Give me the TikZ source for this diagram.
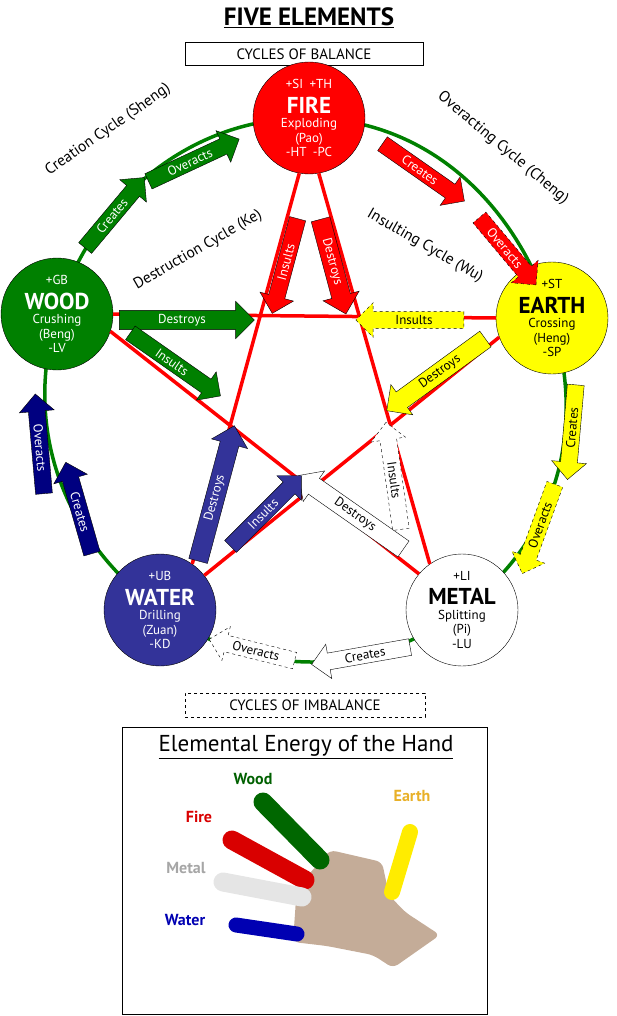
\documentclass[tikz,border=0pt]{standalone}
\usepackage{fontspec}
\setmainfont{PT Sans}
\usetikzlibrary{shapes.arrows}
\definecolor{wgreen}{RGB}{0,128,0}
\definecolor{fred}{RGB}{255,0,0}
\definecolor{eyellow}{RGB}{255,255,0}
\definecolor{wblue}{RGB}{51,51,153}
\definecolor{wnavy}{RGB}{0,0,128}
\definecolor{skin}{RGB}{196,172,152}
\definecolor{hearth}{RGB}{232,176,40}
\tikzset{
  elem/.style={circle,draw=black,minimum size=112pt,inner sep=0pt,align=center,font=\fontsize{13}{14.5}\selectfont},
  blk/.style={single arrow,draw=black,minimum height=#1,single arrow head extend=9pt,inner sep=3.5pt,font=\fontsize{13}{14}\selectfont},
  back/.style={shape border rotate=180},
  cyc/.style={font=\fontsize{15.5}{16}\selectfont},
  finger/.style={line width=19pt,line cap=round}
}
\newcommand{\ename}[1]{{\fontsize{23}{24}\selectfont\bfseries #1}}
\begin{document}
\begin{tikzpicture}[x=1pt,y=1pt]
\useasboundingbox (0,0) rectangle (617,-1016);
% headings
\node[font=\fontsize{25}{26}\selectfont\bfseries] (title) at (309,-18) {\underline{FIVE ELEMENTS}};
\node[draw,minimum width=238pt,minimum height=23pt,font=\fontsize{15}{16}\selectfont] (bal) at (304,-54) {CYCLES OF BALANCE};
\node[draw,dashed,minimum width=240pt,minimum height=24pt,font=\fontsize{15}{16}\selectfont] (imbal) at (305,-705) {CYCLES OF IMBALANCE};
% elements
\coordinate (cf) at (309,-118);
\coordinate (cwd) at (57,-314);
\coordinate (ce) at (552,-318);
\coordinate (cwa) at (160,-610);
\coordinate (cm) at (462,-610);
\draw[wgreen,line width=3.5pt] plot[smooth cycle,tension=0.85] coordinates {(cf) (ce) (cm) (cwa) (cwd)};
\node[elem,fill=fred,text=white] (fire) at (cf) {+SI\enspace+TH\\[7pt]\ename{FIRE}\\Exploding\\(Pao)\\-HT\enspace-PC};
\node[elem,fill=wgreen,text=white] (wood) at (cwd) {+GB\\[7pt]\ename{WOOD}\\Crushing\\(Beng)\\-LV};
\node[elem,fill=eyellow] (earth) at (ce) {+ST\\[7pt]\ename{EARTH}\\Crossing\\(Heng)\\-SP};
\node[elem,fill=wblue,text=white] (water) at (cwa) {+UB\\[7pt]\ename{WATER}\\Drilling\\(Zuan)\\-KD};
\node[elem,fill=white] (metal) at (cm) {+LI\\[7pt]\ename{METAL}\\Splitting\\(Pi)\\-LU};
% pentagram
\draw[fred,line width=3.5pt] (wood.east) -- (earth.west)
  (fire.-100) -- (water.55) (fire.-80) -- (metal.125)
  (wood.-18) -- (metal.140) (earth.-160) -- (water.38);
% cycle names
\node[cyc,rotate=35] (sheng) at (108,-130) {Creation Cycle (Sheng)};
\node[cyc,rotate=-40] (cheng) at (503,-148) {Overacting Cycle (Cheng)};
\node[cyc,rotate=30] (ke) at (198,-250) {Destruction Cycle (Ke)};
\node[cyc,rotate=-30] (wu) at (425,-246) {Insulting Cycle (Wu)};
% wood arrows
\node[blk=92pt,fill=wgreen,text=white,rotate=50] (wdc) at (112,-216) {Creates};
\node[blk=100pt,fill=wgreen,text=white,rotate=25] (wdo) at (190,-162) {Overacts};
\node[blk=135pt,fill=wgreen,text=white] (wdd) at (182,-320) {Destroys};
\node[blk=110pt,fill=wgreen,text=white,rotate=-35] (wdi) at (172,-362) {Insults};
% fire arrows
\node[blk=100pt,fill=fred,text=white,rotate=-35] (frc) at (420,-170) {Creates};
\node[blk=88pt,fill=fred,text=white,rotate=-50,dashed] (fro) at (505,-248) {Overacts};
\node[blk=98pt,fill=fred,text=white,rotate=75,back] (fri) at (286,-262) {Insults};
\node[blk=98pt,fill=fred,text=white,rotate=-75] (frd) at (332,-262) {Destroys};
% earth arrows
\node[blk=108pt,fill=eyellow,dashed,back] (eai) at (414,-320) {Insults};
\node[blk=122pt,fill=eyellow,rotate=36,back] (ead) at (440,-372) {Destroys};
\node[blk=95pt,fill=eyellow,rotate=85,back] (eac) at (572,-428) {Creates};
\node[blk=95pt,fill=eyellow,dashed,rotate=70,back] (eao) at (540,-525) {Overacts};
% metal arrows
\node[blk=108pt,fill=white,dashed,rotate=-82,back] (mti) at (394,-480) {Insults};
\node[blk=128pt,fill=white,rotate=-35,back] (mtd) at (355,-515) {Destroys};
\node[blk=100pt,fill=white,rotate=10,back] (mtc) at (365,-655) {Creates};
\node[blk=88pt,fill=white,dashed,rotate=-14,back] (mto) at (256,-651) {Overacts};
% water arrows
\node[blk=95pt,fill=wnavy,text=white,rotate=-74,back] (wac) at (80,-512) {Creates};
\node[blk=100pt,fill=wnavy,text=white,rotate=-85,back] (wao) at (40,-448) {Overacts};
\node[blk=140pt,fill=wblue,text=white,rotate=75] (wad) at (215,-498) {Destroys};
\node[blk=100pt,fill=wblue,text=white,rotate=45] (wai) at (263,-514) {Insults};
% hand panel
\node[draw,minimum width=365pt,minimum height=287pt] (panel) at (304.5,-870.5) {};
\node[font=\fontsize{23}{24}\selectfont] (htitle) at (306,-747) {\underline{Elemental Energy of the Hand}};
\fill[skin,rounded corners=6pt] (313,-870) -- (330,-850) -- (382,-862) -- (389,-895) -- (405,-912)
  -- (440,-935) -- (393,-968) -- (373,-955) -- (327,-946) -- (293,-942) -- (297,-885) -- cycle;
\draw[finger,wgreen!80!black] (263,-802) -- (320,-860);
\draw[finger,red!85!black] (232,-840) -- (305,-880);
\draw[finger,gray!20] (223,-882) -- (302,-897);
\draw[finger,blue!70!black,line width=15pt] (236,-925) -- (297,-934);
\draw[finger,eyellow!85!orange,line width=16pt] (410,-832) -- (392,-892);
\node[font=\fontsize{16}{17}\selectfont\bfseries,text=wgreen!75!black] (lwood) at (253,-779) {Wood};
\node[font=\fontsize{16}{17}\selectfont\bfseries,text=red!85!black] (lfire) at (199,-817) {Fire};
\node[font=\fontsize{16}{17}\selectfont\bfseries,text=gray!70] (lmetal) at (186,-868) {Metal};
\node[font=\fontsize{16}{17}\selectfont\bfseries,text=blue!70!black] (lwater) at (185,-920) {Water};
\node[font=\fontsize{16}{17}\selectfont\bfseries,text=hearth] (learth) at (412,-796) {Earth};
\end{tikzpicture}
\end{document}
